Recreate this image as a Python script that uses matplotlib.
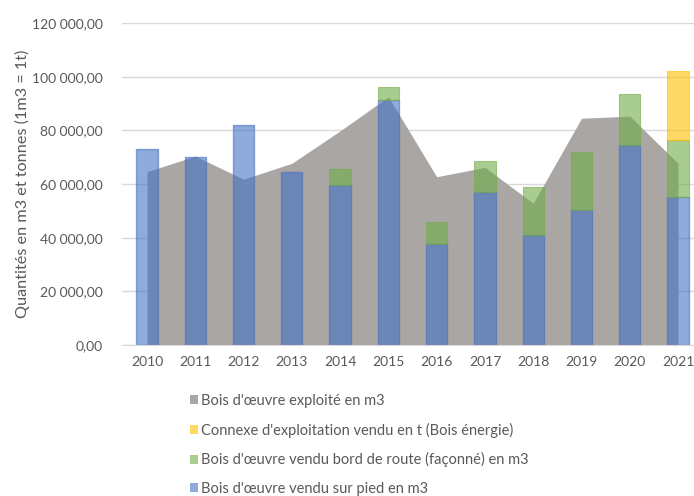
import matplotlib
matplotlib.use("Agg")
import matplotlib.pyplot as plt
from matplotlib.patches import Patch
import numpy as np

years = ["2010", "2011", "2012", "2013", "2014", "2015",
         "2016", "2017", "2018", "2019", "2020", "2021"]
exploite = [64600, 70400, 61800, 67700, 79800, 92500,
            62700, 66200, 52800, 84500, 85300, 67700]
sur_pied = [72900, 70200, 82000, 64400, 59600, 91300,
            37500, 56900, 41000, 50300, 74500, 55000]
bord_route = [0, 0, 0, 0, 5900, 4700,
              8200, 11800, 17800, 21500, 19000, 21400]
connexe = [0, 0, 0, 0, 0, 0, 0, 0, 0, 0, 0, 25700]

labels = ["Bois d'œuvre exploité en m3",
          "Connexe d'exploitation vendu en t (Bois énergie)",
          "Bois d'œuvre vendu bord de route (façonné) en m3",
          "Bois d'œuvre vendu sur pied en m3"]

c_gray = "#a9a6a4"
c_blue = "#4472c4"
c_green = "#70ad47"
c_yellow = "#ffc000"
txt = "#595959"
alpha = 0.6

plt.rcParams["font.family"] = ["Lato", "DejaVu Sans"]

fig = plt.figure(figsize=(6.94, 4.96), dpi=100)
W, H = 694, 496
left, right, bottom, top = 122, 694, 345, 23
ax = fig.add_axes([left / W, 1 - bottom / H, (right - left) / W, (bottom - top) / H])

x = np.arange(len(years))
ax.fill_between(x, exploite, 0, color=c_gray, lw=0, zorder=1)

bw = 0.44
sp = np.array(sur_pied)
br = np.array(bord_route)
cx = np.array(connexe)


def stacked(values, base, color, lw):
    # only draw segments that carry a value, so empty ones leave no edge line
    m = values > 0
    ax.bar(x[m], values[m], bw, bottom=base[m], color=color, alpha=alpha,
           edgecolor=color, lw=lw, zorder=2)


stacked(sp, np.zeros_like(sp), c_blue, 1.0)
stacked(br, sp, c_green, 0.8)
stacked(cx, sp + br, c_yellow, 0.8)

ax.set_xlim(-0.518, 11.33)
ax.set_ylim(0, 120000)
ticks = np.arange(0, 120001, 20000)
ax.set_yticks(ticks)
ax.set_yticklabels([f"{int(v):,}".replace(",", " ") + ",00" for v in ticks])
ax.set_xticks(x)
ax.set_xticklabels(years)
ax.tick_params(axis="both", length=0, colors=txt, labelsize=10)
ax.tick_params(axis="y", pad=14)
ax.tick_params(axis="x", pad=8)
ax.grid(axis="y", color="#d9d9d9", lw=1, zorder=0)
ax.set_axisbelow(True)
for s in ["top", "right", "left"]:
    ax.spines[s].set_visible(False)
ax.spines["bottom"].set_color("#d9d9d9")

fig.text(22 / W, 1 - 184 / H, "Quantités en m3 et tonnes (1m3 = 1t)", rotation=90,
         ha="center", va="center", color=txt, fontsize=11.7)

handles = [Patch(facecolor=c_gray, alpha=1.0),
           Patch(facecolor=c_yellow, alpha=alpha),
           Patch(facecolor=c_green, alpha=alpha),
           Patch(facecolor=c_blue, alpha=alpha)]
leg = fig.legend(handles, labels, loc="upper left", bbox_to_anchor=(190 / W, 1 - 394 / H),
                 frameon=False, fontsize=10.5, labelcolor=txt, handlelength=0.57,
                 handleheight=0.57, handletextpad=0.2, labelspacing=1.0,
                 borderaxespad=0, borderpad=0)

fig.savefig("out.png", dpi=100)
